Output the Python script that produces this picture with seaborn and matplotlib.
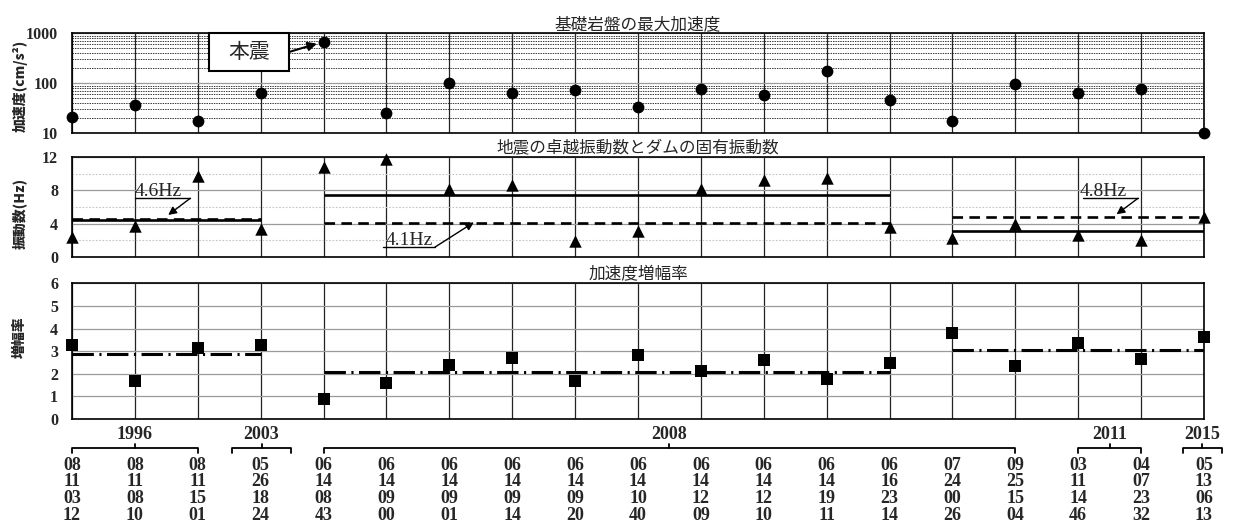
import numpy as np
import pandas as pd
import matplotlib
matplotlib.use("Agg")
import matplotlib.pyplot as plt
import matplotlib.transforms as mtransforms
from matplotlib.patches import Rectangle
from matplotlib.ticker import FixedLocator, NullFormatter
import seaborn as sns

# ---- event timestamps (month / day / hour / minute) ----
months  = ["08", "08", "08", "05", "06", "06", "06", "06", "06", "06",
           "06", "06", "06", "06", "07", "09", "03", "04", "05"]
days    = ["11", "11", "11", "26", "14", "14", "14", "14", "14", "14",
           "14", "14", "14", "16", "24", "25", "11", "07", "13"]
hours   = ["03", "08", "15", "18", "08", "09", "09", "09", "09", "10",
           "12", "12", "19", "23", "00", "15", "14", "23", "06"]
minutes = ["12", "10", "01", "24", "43", "00", "01", "14", "20", "40",
           "09", "10", "11", "14", "26", "04", "46", "32", "13"]

years = ["1996", "2003", "2008", "2011", "2015"]

# ---- measured values per event ----
bedrock_acc = [21.5, 36, 18, 65, 680, 25, 103, 63, 75, 34,
               78, 59, 179, 47, 18, 96, 64, 78, 10]          # cm/s^2
quake_freq = [2.4, 3.75, 9.8, 3.4, 10.8, 11.8, 8.2, 8.65, 1.9, 3.15,
              8.2, 9.25, 9.45, 3.55, 2.3, 3.9, 2.6, 2.0, 4.75]  # Hz
amp_ratio = [3.26, 1.70, 3.14, 3.29, 0.88, 1.59, 2.37, 2.68, 1.67, 2.85,
             2.12, 2.61, 1.78, 2.49, 3.82, 2.35, 3.38, 2.64, 3.63]

# ---- period levels (first event, last event) ----
period_start = [0, 4, 14]
period_end = [3, 13, 18]
dam_freq = [4.6, 4.1, 4.8]           # natural frequency of the dam (dashed)
quake_freq_level = [4.45, 7.5, 3.1]   # dominant frequency level (solid)
amp_level = [2.86, 2.09, 3.05]        # mean amplification (dash-dot)

n = len(bedrock_acc)
events = np.arange(n)
df = pd.DataFrame({"event": events, "acc": bedrock_acc,
                   "freq": quake_freq, "amp": amp_ratio})

sns.set_theme(style="white")
plt.rcParams["font.family"] = ["Liberation Serif", "Noto Sans CJK JP", "DejaVu Sans"]
JP = ["Noto Sans CJK JP", "DejaVu Sans"]

W, H = 1234, 524
fig = plt.figure(figsize=(W / 100, H / 100), dpi=100)


def frame(top, bottom):
    return [72 / W, 1 - bottom / H, 1132 / W, (bottom - top) / H]


ax1 = fig.add_axes(frame(33.3, 133.3))
ax2 = fig.add_axes(frame(157.3, 256.7))
ax3 = fig.add_axes(frame(283.3, 419.0))

tick_font = dict(family="Liberation Serif", weight="bold", size=11.5)

for ax in (ax1, ax2, ax3):
    ax.set_xlim(0, n - 1)
    ax.set_xticks(events)
    ax.grid(axis="x", color="#222222", lw=0.9, zorder=1)
    ax.tick_params(axis="x", length=0, labelbottom=False)
    ax.tick_params(axis="y", which="both", length=0, pad=10)
    for sp in ax.spines.values():
        sp.set_color("black")
        sp.set_linewidth(1.2)
        sp.set_zorder(3)
    ax.set_axisbelow(True)

# ---- panel 1: bedrock peak acceleration (log scale) ----
ax1.set_yscale("log")
ax1.set_ylim(10, 1000)
ax1.yaxis.set_major_locator(FixedLocator([10, 100, 1000]))
ax1.yaxis.set_minor_locator(FixedLocator(
    [k * 10 ** e for e in (1, 2) for k in range(2, 10)]))
ax1.yaxis.set_minor_formatter(NullFormatter())
ax1.set_yticklabels(["10", "100", "1000"], **tick_font)
ax1.grid(axis="y", which="major", color="#9a9a9a", lw=0.9)
ax1.grid(axis="y", which="minor", color="#2a2a2a", lw=0.65, linestyle=(0, (1.6, 1.1)))
sns.scatterplot(data=df, x="event", y="acc", ax=ax1, marker="o", s=72,
                color="black", edgecolor="black", linewidth=0,
                clip_on=False, zorder=6)
ax1.set_xlabel("")
ax1.set_ylabel("")
ax1.set_title("基礎岩盤の最大加速度", family=JP, size=12, pad=1.5)

box_x0, box_x1 = 0.121, 0.1917
box_y0, box_y1 = 0.623, 1.0
ax1.add_patch(Rectangle((box_x0, box_y0), box_x1 - box_x0, box_y1 - box_y0,
                        transform=ax1.transAxes, facecolor="white",
                        edgecolor="black", lw=1.5, zorder=7, clip_on=False))
ax1.text((box_x0 + box_x1) / 2, (box_y0 + box_y1) / 2, "本震", family=JP,
         size=15, ha="center", va="center", transform=ax1.transAxes, zorder=8)
ax1.annotate("", xy=(4, bedrock_acc[4]), xycoords="data",
             xytext=(box_x1, 0.813), textcoords="axes fraction",
             arrowprops=dict(arrowstyle="-|>", color="black", lw=1.5,
                             shrinkA=0, shrinkB=5, mutation_scale=13),
             zorder=8)

# ---- panel 2: dominant frequency vs natural frequency ----
ax2.set_ylim(0, 12)
ax2.yaxis.set_major_locator(FixedLocator([0, 4, 8, 12]))
ax2.yaxis.set_minor_locator(FixedLocator([2, 6, 10]))
ax2.set_yticklabels(["0", "4", "8", "12"], **tick_font)
ax2.grid(axis="y", which="major", color="#9a9a9a", lw=0.9)
ax2.grid(axis="y", which="minor", color="#c4c4c4", lw=0.8, linestyle=(0, (1.5, 1.5)))
for s, e, q, d in zip(period_start, period_end, quake_freq_level, dam_freq):
    ax2.plot([s, e], [q, q], color="black", lw=1.9, solid_capstyle="butt", zorder=4)
    ax2.plot([s, e], [d, d], color="black", lw=1.9, dashes=(4, 2.4), zorder=4)
sns.scatterplot(data=df, x="event", y="freq", ax=ax2, marker="^", s=80,
                color="black", edgecolor="black", linewidth=0,
                clip_on=False, zorder=6)
ax2.set_xlabel("")
ax2.set_ylabel("")
ax2.set_title("地震の卓越振動数とダムの固有振動数", family=JP, size=12, pad=1.5)


def leader(ax, label, tx, ty, ux0, ux1, uy, tipx, tipy):
    ax.text(tx, ty, label, family="Liberation Serif", size=14,
            ha="left", va="baseline", zorder=8)
    ax.plot([ux0, ux1], [uy, uy], color="black", lw=1.0, zorder=8)
    ax.annotate("", xy=(tipx, tipy), xytext=(ux1, uy),
                arrowprops=dict(arrowstyle="-|>", color="black", lw=1.0,
                                shrinkA=0, shrinkB=0, mutation_scale=12),
                zorder=8)


leader(ax2, f"{dam_freq[0]}Hz", 1.0, 7.3, 1.0, 1.88, 7.05, 1.53, 5.04)
leader(ax2, f"{dam_freq[1]}Hz", 4.98, 1.45, 4.94, 5.77, 1.15, 6.39, 4.15)
leader(ax2, f"{dam_freq[2]}Hz", 16.03, 7.37, 16.07, 16.95, 7.05, 16.61, 5.12)

# ---- panel 3: acceleration amplification ratio ----
ax3.set_ylim(0, 6)
ax3.yaxis.set_major_locator(FixedLocator(range(7)))
ax3.set_yticklabels([str(v) for v in range(7)], **tick_font)
ax3.grid(axis="y", which="major", color="#9a9a9a", lw=0.9)
for s, e, a in zip(period_start, period_end, amp_level):
    ax3.plot([s, e], [a, a], color="black", lw=2.2,
             dashes=(7, 1.8, 0.7, 1.8), zorder=4)
sns.scatterplot(data=df, x="event", y="amp", ax=ax3, marker="s", s=64,
                color="black", edgecolor="black", linewidth=0,
                clip_on=False, zorder=6)
ax3.set_xlabel("")
ax3.set_ylabel("")
ax3.set_title("加速度増幅率", family=JP, size=12, pad=1.5)

# ---- vertical axis labels ----
ylab = dict(family=JP, weight="heavy", size=10, rotation=90,
            ha="center", va="center")
fig.text(20 / W, 1 - 86 / H, "加速度(cm/s²)", **ylab)
fig.text(20 / W, 1 - 213 / H, "振動数(Hz)", **ylab)
fig.text(20 / W, 1 - 337 / H, "増幅率", **ylab)

# ---- event timestamps under the chart ----
blend = mtransforms.blended_transform_factory(ax3.transData, fig.transFigure)
row_y = [465.0, 481.5, 498.5, 515.5]
date_font = dict(family="Liberation Serif", weight="bold", size=13,
                 ha="center", va="center", transform=blend)
for i in range(n):
    for r, col in enumerate((months, days, hours, minutes)):
        fig.text(i, 1 - row_y[r] / H, col[i], **date_font)

# ---- year brackets ----
bracket_span = [(0, 2), (2.55, 3.48), (4, 15), (16, 17), (17.66, 18.28)]
yb, yb_end, yb_mid = 448.3, 452.5, 444.0
for yr, (b0, b1) in zip(years, bracket_span):
    mid = (b0 + b1) / 2
    ax3.plot([b0, b0, b1, b1], [1 - yb_end / H, 1 - yb / H, 1 - yb / H, 1 - yb_end / H],
             color="black", lw=1.3, transform=blend, clip_on=False)
    ax3.plot([mid, mid], [1 - yb / H, 1 - yb_mid / H], color="black", lw=1.3,
             transform=blend, clip_on=False)
    fig.text(mid, 1 - 434.5 / H, yr, family="Liberation Serif", weight="bold",
             size=13, ha="center", va="center", transform=blend)

fig.savefig("out.png", dpi=100)
